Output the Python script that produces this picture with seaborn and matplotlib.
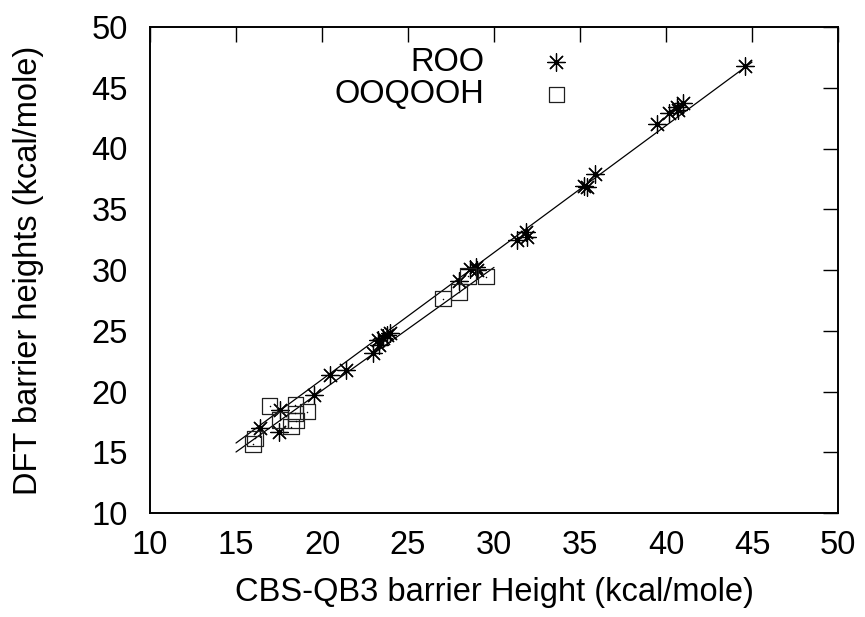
import numpy as np
import pandas as pd
import matplotlib
matplotlib.use("Agg")
import matplotlib.pyplot as plt
import seaborn as sns

# ROO reactions: CBS-QB3 vs DFT barrier heights (kcal/mole)
roo_cbs = [16.4, 17.5, 17.55, 19.55, 20.45, 21.4, 22.95, 23.3, 23.25, 23.55,
           23.75, 23.95, 27.95, 28.6, 28.95, 29.0, 31.35, 31.85, 31.9, 35.25,
           35.4, 35.85, 39.45, 40.15, 40.65, 41.0, 40.7, 44.6]
roo_dft = [17.0, 16.65, 18.5, 19.75, 21.35, 21.75, 23.15, 23.85, 24.25, 24.4,
           24.65, 24.8, 29.1, 30.1, 30.25, 30.0, 32.45, 33.15, 32.75, 36.95,
           36.85, 37.9, 42.05, 42.9, 43.4, 43.75, 43.2, 46.8]

# OOQOOH reactions
qooh_cbs = [16.95, 18.45, 19.15, 18.45, 17.55, 18.5, 18.2, 16.1, 16.0,
            27.05, 27.95, 28.5, 29.55]
qooh_dft = [18.8, 18.9, 18.35, 18.2, 17.65, 17.6, 17.1, 16.15, 15.7,
            27.65, 28.2, 29.5, 29.45]

# Linear fits (slope, intercept) and the x-range each fit is drawn over
roo_fit = (1.045, 0.085)
roo_fit_range = [15.0, 45.0]
qooh_fit = (1.013, -0.175)
qooh_fit_range = [15.0, 30.0]

series_labels = ["ROO", "OOQOOH"]
xticks = [10, 15, 20, 25, 30, 35, 40, 45, 50]
yticks = [10, 15, 20, 25, 30, 35, 40, 45, 50]

sns.set_style("white")
plt.rcParams["font.family"] = ["Liberation Sans", "DejaVu Sans"]
plt.rcParams["axes.unicode_minus"] = False
plt.rcParams["text.color"] = "black"
plt.rcParams["axes.labelcolor"] = "black"
plt.rcParams["xtick.color"] = "black"
plt.rcParams["ytick.color"] = "black"

FS = 23.5
W, H = 865, 617
fig = plt.figure(figsize=(W / 100, H / 100), dpi=100)
ax = fig.add_axes([150 / W, 1 - 513 / H, 688 / W, 486 / H])

roo = pd.DataFrame({"cbs": roo_cbs, "dft": roo_dft})
qooh = pd.DataFrame({"cbs": qooh_cbs, "dft": qooh_dft})

# fit lines
for (m, b), xr in [(roo_fit, roo_fit_range), (qooh_fit, qooh_fit_range)]:
    xs = np.array(xr)
    line = pd.DataFrame({"x": xs, "y": m * xs + b})
    sns.lineplot(data=line, x="x", y="y", ax=ax, color="black",
                 linewidth=0.9, legend=False, zorder=2)

sns.scatterplot(data=roo, x="cbs", y="dft", ax=ax, marker=(8, 2, 0),
                s=160, color="black", linewidth=0.9, label=series_labels[0],
                zorder=3)
sns.scatterplot(data=qooh, x="cbs", y="dft", ax=ax, marker="s", s=125,
                facecolors="none", edgecolors="#202020", linewidths=0.9,
                label=series_labels[1], zorder=3)
# centre dots of the box markers
sns.scatterplot(data=qooh, x="cbs", y="dft", ax=ax, marker="o", s=1.2,
                color="black", linewidth=0, legend=False, zorder=3)

ax.set_xlim(10, 50)
ax.set_ylim(10, 50)
ax.set_xticks(xticks)
ax.set_yticks(yticks)
ax.tick_params(direction="in", length=11, width=1.0, top=True, right=True,
               labelsize=FS, colors="black")
ax.tick_params(axis="x", pad=12)
ax.tick_params(axis="y", pad=16)
for sp in ax.spines.values():
    sp.set_visible(True)
    sp.set_color("black")
    sp.set_linewidth(1.4)
ax.grid(False)

ax.set_xlabel("CBS-QB3 barrier Height (kcal/mole)", fontsize=FS, color="black")
ax.set_ylabel("DFT barrier heights (kcal/mole)", fontsize=FS, color="black")
ax.xaxis.set_label_coords(0.5, -0.131)
ax.yaxis.set_label_coords(-0.154, 0.5)

leg = ax.legend(loc="upper right", bbox_to_anchor=(589 / W, 1 - 47 / H),
                bbox_transform=fig.transFigure, frameon=False,
                markerfirst=False, fontsize=FS, handletextpad=1.2,
                handlelength=2.0, labelspacing=0.03, borderpad=0,
                borderaxespad=0)
for t in leg.get_texts():
    t.set_color("black")

fig.savefig("out.png", dpi=100)
